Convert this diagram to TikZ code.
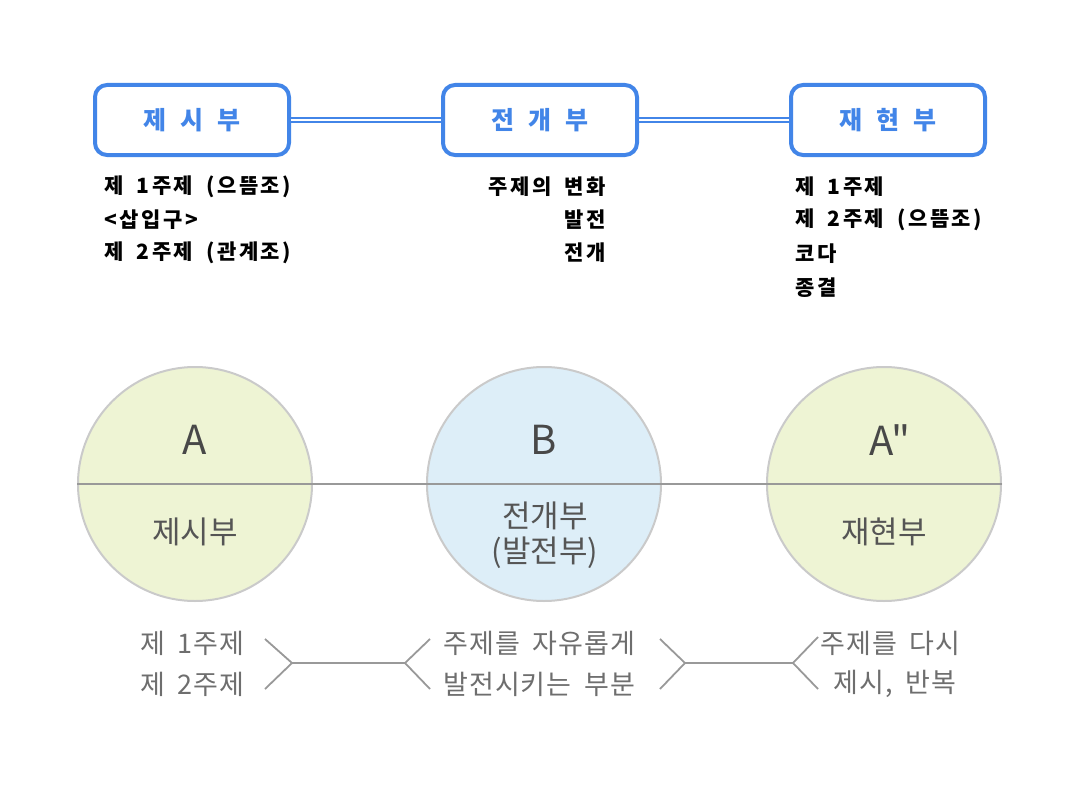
\documentclass[tikz,border=0pt]{standalone}
\usepackage{fontspec}
\setmainfont{Noto Sans CJK KR}
\newfontfamily\notefont{Noto Sans CJK KR}[LetterSpace=12, WordSpace=1.8]
\newfontfamily\lowfont{Noto Sans CJK KR}[LetterSpace=4, WordSpace=1.8]
\newfontfamily\tagfont{Noto Sans CJK KR}[Ligatures=TeXOff]
\usetikzlibrary{calc}
\definecolor{boxblue}{HTML}{4285E8}
\definecolor{fillA}{HTML}{EEF4D4}
\definecolor{fillB}{HTML}{DDEEF8}
\definecolor{ringgray}{HTML}{CACACA}
\definecolor{linegray}{HTML}{999999}
\definecolor{txtgray}{HTML}{555555}
\tikzset{
  partbox/.style={draw=boxblue, line width=4pt, rounded corners=12pt, fill=white,
    minimum width=194pt, minimum height=70pt, text=boxblue, font=\fontsize{25}{27}\selectfont\bfseries},
  partlink/.style={draw=boxblue, double=white, double distance=2.4pt, line width=2pt},
  noteline/.style={font=\notefont\fontsize{21}{23}\selectfont\bfseries, inner sep=0pt},
  ball/.style={circle, draw=ringgray, line width=2pt, minimum size=234pt, inner sep=0pt},
  balltag/.style={text=txtgray!85!black, font=\tagfont\fontsize{40}{42}\selectfont, inner sep=0pt},
  ballname/.style={text=txtgray, font=\fontsize{31}{35}\selectfont, inner sep=0pt, align=center},
  lowline/.style={text=txtgray!85, font=\lowfont\fontsize{27}{29}\selectfont, inner sep=0pt},
  fork/.style={draw=linegray, line width=1.8pt}
}
\begin{document}
\begin{tikzpicture}[x=1pt, y=-1pt]
		%%%%% START %%%%%
		\useasboundingbox (0, 0) rectangle (1080, 800);
		
		% top boxes
		\node[partbox] (bx1) at (192, 120) {제\hspace{14pt}시\hspace{14pt}부};
		\node[partbox] (bx2) at (540, 120) {전\hspace{14pt}개\hspace{14pt}부};
		\node[partbox] (bx3) at (888, 120) {재\hspace{14pt}현\hspace{14pt}부};
		\draw[partlink] (bx1.east) -- (bx2.west);
		\draw[partlink] (bx2.east) -- (bx3.west);
		
		% notes under the boxes
		\node[noteline, anchor=west] (n11) at (104, 187) {제 1주제 (으뜸조)};
		\node[noteline, anchor=west] (n12) at (104, 220) {<삽입구>};
		\node[noteline, anchor=west] (n13) at (104, 253) {제 2주제 (관계조)};
		
		\node[noteline, anchor=east] (n21) at (606, 187) {주제의 변화};
		\node[noteline, anchor=east] (n22) at (606, 220) {발전};
		\node[noteline, anchor=east] (n23) at (606, 253) {전개};
		
		\node[noteline, anchor=west] (n31) at (795, 187) {제 1주제};
		\node[noteline, anchor=west] (n32) at (795, 220) {제 2주제 (으뜸조)};
		\node[noteline, anchor=west] (n33) at (795, 254) {코다};
		\node[noteline, anchor=west] (n34) at (795, 288) {종결};
		
		% circles
		\node[ball, fill=fillA] (cA) at (195, 484) {};
		\node[ball, fill=fillB] (cB) at (544, 484) {};
		\node[ball, fill=fillA] (cC) at (884, 484) {};
		\draw[linegray, line width=2pt] (cA.west) -- (cC.east);
		
		\node[balltag] (tA) at (195, 440) {A};
		\node[balltag] (tB) at (544, 440) {B};
		\node[balltag] (tC) at (890, 440) {A"};
		\node[ballname] (sA) at (195, 532) {제시부};
		\node[ballname] (sB) at (545, 535) {전개부\\(발전부)};
		\node[ballname] (sC) at (884, 532) {재현부};
		
		% lower notes and forks
		\node[lowline, anchor=west] (l11) at (140, 643) {제 1주제};
		\node[lowline, anchor=west] (l12) at (140, 684) {제 2주제};
		\node[lowline, anchor=west] (l21) at (443, 643) {주제를 자유롭게};
		\node[lowline, anchor=west] (l22) at (443, 684) {발전시키는 부분};
		\node[lowline, anchor=west] (l31) at (820, 643) {주제를 다시};
		\node[lowline] (l32) at (895, 684) {제시, 반복};
		
		\coordinate (k1) at (292, 663);
		\coordinate (k2) at (405, 663);
		\coordinate (k3) at (685, 663);
		\coordinate (k4) at (793, 663);
		\draw[fork] (265, 639) -- (k1) -- (265, 689);
		\draw[fork] (k1) -- (k2);
		\draw[fork] (430, 639) -- (k2) -- (430, 689);
		\draw[fork] (660, 639) -- (k3) -- (660, 689);
		\draw[fork] (k3) -- (k4);
		\draw[fork] (818, 637) -- (k4) -- (818, 689);
		
		%%%%% END %%%%%
\end{tikzpicture}
\end{document}
